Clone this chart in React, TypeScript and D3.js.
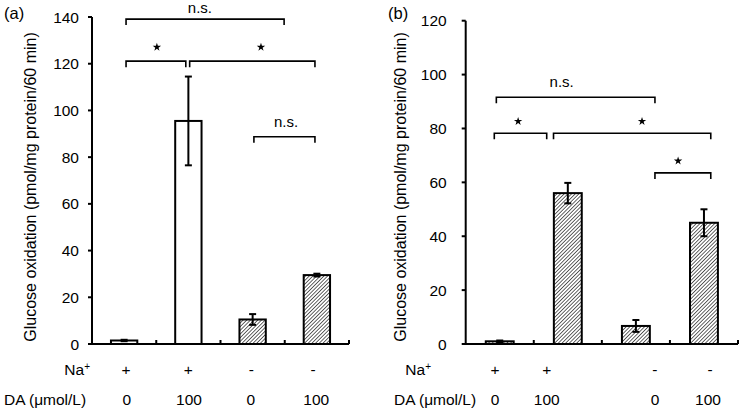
import React from "react";
import * as d3 from "d3";

// ---------- Data ----------
const categories = ["c1", "c2", "c3", "c4"];

const valuesA = [1.5, 95.5, 10.5, 29.5];
const errorsA = [0.3, 19, 2.3, 0.6];
const hatchedA = [false, false, true, true];
const naLabelsA = ["+", "+", "-", "-"];
const daLabelsA = ["0", "100", "0", "100"];
const yTicksA = [0, 20, 40, 60, 80, 100, 120, 140];

const valuesB = [1.0, 56, 6.7, 45];
const errorsB = [0.3, 3.8, 2.2, 5];
const hatchedB = [true, true, true, true];
const naLabelsB = ["+", "+", "-", "-"];
const daLabelsB = ["0", "100", "0", "100"];
const yTicksB = [0, 20, 40, 60, 80, 100, 120];

// Significance brackets: from/to in category-index units, level in data units
const bracketsA = [
  { from: 0.03, to: 2.49, level: 139.1, label: "n.s.", at: 1.18 },
  { from: 0.03, to: 0.96, level: 121.1, label: "*", at: 0.51 },
  { from: 1.02, to: 2.97, level: 121.1, label: "*", at: 2.13 },
  { from: 2.02, to: 2.97, level: 88.7, label: "n.s.", at: 2.52 },
];
const bracketsB = [
  { from: -0.05, to: 2.28, level: 91.6, label: "n.s.", at: 0.91 },
  { from: -0.08, to: 0.69, level: 78.2, label: "*", at: 0.27 },
  { from: 0.79, to: 3.1, level: 78.2, label: "*", at: 2.09 },
  { from: 2.28, to: 3.1, level: 63.5, label: "*", at: 2.62 },
];
const naPosA = [0.03, 1.0, 1.98, 2.94];
const daPosA = [0.04, 1.01, 1.97, 2.99];
const naPosB = [-0.07, 0.69, 2.28, 3.09];
const daPosB = [-0.07, 0.69, 2.28, 3.06];

const yLabel = "Glucose oxidation (pmol/mg protein/60 min)";
const FONT = "Arial, 'Liberation Sans', Helvetica, sans-serif";

const starPath = d3.symbol().type(d3.symbolStar).size(22)() as string;

type PanelProps = {
  id: string;
  tag: string;
  tagX: number;
  values: number[];
  errors: number[];
  hatched: boolean[];
  naLabels: string[];
  daLabels: string[];
  naPos: number[];
  daPos: number[];
  yTicks: number[];
  yMax: number;
  brackets: { from: number; to: number; level: number; label: string; at: number }[];
  x0: number;
  x1: number;
  yTopPx: number;
  tickLabelGap: number;
  yLabelX: number;
  rowLabelRight: number;
  daLabelLeft: number;
  topNsGap?: number;
  starGap: number;
};

function Panel(p: PanelProps) {
  const y0 = 344;
  const y = d3.scaleLinear().domain([0, p.yMax]).range([y0, p.yTopPx]);
  const x = d3
    .scaleBand<number>()
    .domain(categories.map((_, i) => i))
    .range([p.x0, p.x1])
    .paddingInner(0.59)
    .paddingOuter(0.295);
  const bw = x.bandwidth();
  const step = x.step();
  const c0 = (x(0) as number) + bw / 2;
  const pos = d3.scaleLinear().domain([0, 1]).range([c0, c0 + step]);

  return (
    <g fontFamily={FONT}>
      <text x={p.tagX} y={19} fontSize={16.5}>
        {p.tag}
      </text>
      {/* y label */}
      <text
        transform={`translate(${p.yLabelX},187) rotate(-90)`}
        textAnchor="middle"
        dominantBaseline="central"
        fontSize={16}
      >
        {yLabel}
      </text>
      {/* y ticks */}
      {p.yTicks.map((t) => (
        <g key={t}>
          <line x1={p.x0 - 4} x2={p.x0} y1={y(t)} y2={y(t)} stroke="#000" strokeWidth={2} />
          <text
            x={p.x0 - p.tickLabelGap}
            y={y(t)}
            textAnchor="end"
            dominantBaseline="central"
            fontSize={15.5}
          >
            {t}
          </text>
        </g>
      ))}
      {/* bars */}
      {p.values.map((v, i) => {
        const bx = x(i) as number;
        const cx = bx + bw / 2;
        const top = y(v + p.errors[i]);
        const bot = y(Math.max(0, v - p.errors[i]));
        return (
          <g key={i}>
            <rect
              x={bx}
              y={y(v)}
              width={bw}
              height={y0 - y(v)}
              fill={p.hatched[i] ? `url(#hatch-${p.id})` : "#fff"}
              stroke="#000"
              strokeWidth={2}
            />
            <line x1={cx} x2={cx} y1={top} y2={bot} stroke="#000" strokeWidth={2} />
            <line x1={cx - 3.5} x2={cx + 3.5} y1={top} y2={top} stroke="#000" strokeWidth={2} />
            <line x1={cx - 3.5} x2={cx + 3.5} y1={bot} y2={bot} stroke="#000" strokeWidth={2} />
          </g>
        );
      })}
      {/* axes */}
      <line x1={p.x0} x2={p.x0} y1={p.yTopPx} y2={y0 + 1} stroke="#000" strokeWidth={2} />
      <line x1={p.x0} x2={p.x1} y1={y0} y2={y0} stroke="#000" strokeWidth={2} />
      {categories.map((_, i) => {
        const tx = p.x0 + (i + 1) * step;
        return <line key={i} x1={tx} x2={tx} y1={y0} y2={y0 - 4} stroke="#000" strokeWidth={2} />;
      })}
      {/* brackets */}
      {p.brackets.map((b, i) => {
        const ly = y(b.level);
        const xa = pos(b.from);
        const xb = pos(b.to);
        const isStar = b.label === "*";
        const gap = i === 0 && p.topNsGap ? p.topNsGap : 10;
        return (
          <g key={i}>
            <path
              d={`M${xa},${ly + 6}V${ly}H${xb}V${ly + 6}`}
              fill="none"
              stroke="#000"
              strokeWidth={1.6}
            />
            {isStar ? (
              <path d={starPath} transform={`translate(${pos(b.at)},${ly - p.starGap})`} fill="#000" />
            ) : (
              <text x={pos(b.at)} y={ly - gap} textAnchor="middle" fontSize={15}>
                {b.label}
              </text>
            )}
          </g>
        );
      })}
      {/* condition rows */}
      <text x={p.rowLabelRight} y={375} textAnchor="end" fontSize={15.5}>
        Na<tspan dy={-5} fontSize={10}>+</tspan>
      </text>
      <text x={p.daLabelLeft} y={404.5} fontSize={15.5}>
        DA (μmol/L)
      </text>
      {p.naLabels.map((l, i) => (
        <text key={i} x={pos(p.naPos[i])} y={375} textAnchor="middle" fontSize={15.5}>
          {l}
        </text>
      ))}
      {p.daLabels.map((l, i) => (
        <text key={i} x={pos(p.daPos[i])} y={404.5} textAnchor="middle" fontSize={15.5}>
          {l}
        </text>
      ))}
    </g>
  );
}

export default function App() {
  return (
    <svg
      width={742}
      height={410}
      style={{ position: "absolute", left: 0, top: 0, background: "#fff" }}
    >
      <defs>
        {["a", "b"].map((id) => (
          <pattern
            key={id}
            id={`hatch-${id}`}
            patternUnits="userSpaceOnUse"
            width={2.6}
            height={2.6}
            patternTransform="rotate(45)"
          >
            <rect width={2.6} height={2.6} fill="#fff" />
            <line x1={0} y1={0} x2={0} y2={2.6} stroke="#111" strokeWidth={1.3} />
          </pattern>
        ))}
      </defs>
      <rect width={742} height={410} fill="#fff" />
      <Panel
        id="a"
        tag="(a)"
        tagX={4}
        values={valuesA}
        errors={errorsA}
        hatched={hatchedA}
        naLabels={naLabelsA}
        daLabels={daLabelsA}
        naPos={naPosA}
        daPos={daPosA}
        yTicks={yTicksA}
        yMax={140}
        brackets={bracketsA}
        x0={92}
        x1={349}
        yTopPx={17}
        tickLabelGap={13}
        yLabelX={30}
        rowLabelRight={90}
        daLabelLeft={4}
        topNsGap={6}
        starGap={14}
      />
      <Panel
        id="b"
        tag="(b)"
        tagX={388}
        values={valuesB}
        errors={errorsB}
        hatched={hatchedB}
        naLabels={naLabelsB}
        daLabels={daLabelsB}
        naPos={naPosB}
        daPos={daPosB}
        yTicks={yTicksB}
        yMax={120}
        brackets={bracketsB}
        x0={465.7}
        x1={738}
        yTopPx={20.7}
        tickLabelGap={19}
        yLabelX={400}
        rowLabelRight={431}
        daLabelLeft={394}
        starGap={12}
      />
    </svg>
  );
}
